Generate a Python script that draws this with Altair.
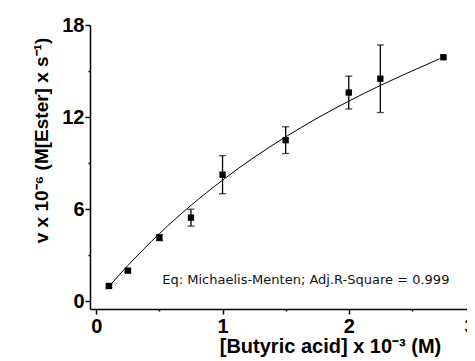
import altair as alt
import pandas as pd

# measured data
conc = [0.1, 0.25, 0.5, 0.75, 1.0, 1.5, 2.0, 2.25, 2.75]
rate = [1.0, 2.0, 4.15, 5.45, 8.25, 10.5, 13.6, 14.5, 15.9]
err = [0.1, 0.1, 0.2, 0.55, 1.24, 0.87, 1.07, 2.2, 0.1]

# fitted curve
fit_x = [0.08, 0.25, 0.5, 0.75, 1.0, 1.25, 1.5, 1.75, 2.0, 2.25, 2.5, 2.72]
fit_y = [0.78, 2.33, 4.41, 6.25, 7.89, 9.38, 10.71, 11.93, 13.04, 14.06, 15.0, 15.8]

note_text = ["Eq: Michaelis-Menten; Adj.R-Square = 0.999"]
note_x = [1.66]
note_y = [1.37]

x_ticks = [0, 0.5, 1, 1.5, 2, 2.5, 3]
y_ticks = [0, 3, 6, 9, 12, 15, 18]

pts = pd.DataFrame({"conc": conc, "rate": rate,
                    "lo": [r - e for r, e in zip(rate, err)],
                    "hi": [r + e for r, e in zip(rate, err)]})
fit = pd.DataFrame({"conc": fit_x, "rate": fit_y})
note = pd.DataFrame({"conc": note_x, "rate": note_y, "t": note_text})

xscale = alt.Scale(domain=[-0.05, 3], nice=False, zero=False)
yscale = alt.Scale(domain=[-0.5, 18], nice=False, zero=False)

xax = alt.Axis(values=x_ticks, format="~g",
               labelExpr="datum.value % 1 === 0 ? datum.label : ''",
               tickSize={"condition": {"test": "datum.value % 1 === 0", "value": 5}, "value": 2},
               title="[Butyric acid] x 10⁻³ (M)", titleX=240, titleAlign="center",
               titleFontSize=20, titlePadding=0, labelPadding=2)
yax = alt.Axis(values=y_ticks, format="~g",
               labelExpr="datum.value % 6 === 0 ? datum.label : ''",
               tickSize={"condition": {"test": "datum.value % 6 === 0", "value": 5}, "value": 2},
               title="v x 10⁻⁶ (M[Ester] x s⁻¹)", titleY=115, titleAlign="center",
               titleFontSize=19, titlePadding=10, labelPadding=1)

X = alt.X("conc:Q", scale=xscale, axis=xax)
Y = alt.Y("rate:Q", scale=yscale, axis=yax)

line = alt.Chart(fit).mark_line(color="black", strokeWidth=1, interpolate="monotone").encode(x=X, y=Y)
bars = alt.Chart(pts).mark_rule(color="black", strokeWidth=1.3).encode(x="conc:Q", y="lo:Q", y2="hi:Q")
cap_lo = alt.Chart(pts).mark_tick(color="black", size=7, thickness=1.3, orient="horizontal").encode(x="conc:Q", y="lo:Q")
cap_hi = alt.Chart(pts).mark_tick(color="black", size=7, thickness=1.3, orient="horizontal").encode(x="conc:Q", y="hi:Q")
dots = alt.Chart(pts).mark_point(shape="square", filled=True, color="black", size=40, opacity=1).encode(x="conc:Q", y="rate:Q")
txt = alt.Chart(note).mark_text(font="DejaVu Sans", fontSize=13, color="#111", align="center", baseline="middle").encode(
    x="conc:Q", y="rate:Q", text="t:N")

chart = alt.layer(line, bars, cap_lo, cap_hi, dots, txt).properties(
    width=385, height=284,
    autosize=alt.AutoSizeParams(type="none"),
    padding={"left": 82, "top": 17, "right": -8, "bottom": 48},
).configure_view(stroke=None).configure_axis(
    grid=False, domainColor="black", domainWidth=1.5, tickColor="black", tickWidth=1.5,
    labelFont="Liberation Sans", labelFontSize=20, labelFontWeight="bold",
    labelColor="black", titleFont="Liberation Sans", titleFontWeight="bold",
    titleColor="black",
)

chart.save("out.html", embed_options={"renderer": "svg", "actions": False})
